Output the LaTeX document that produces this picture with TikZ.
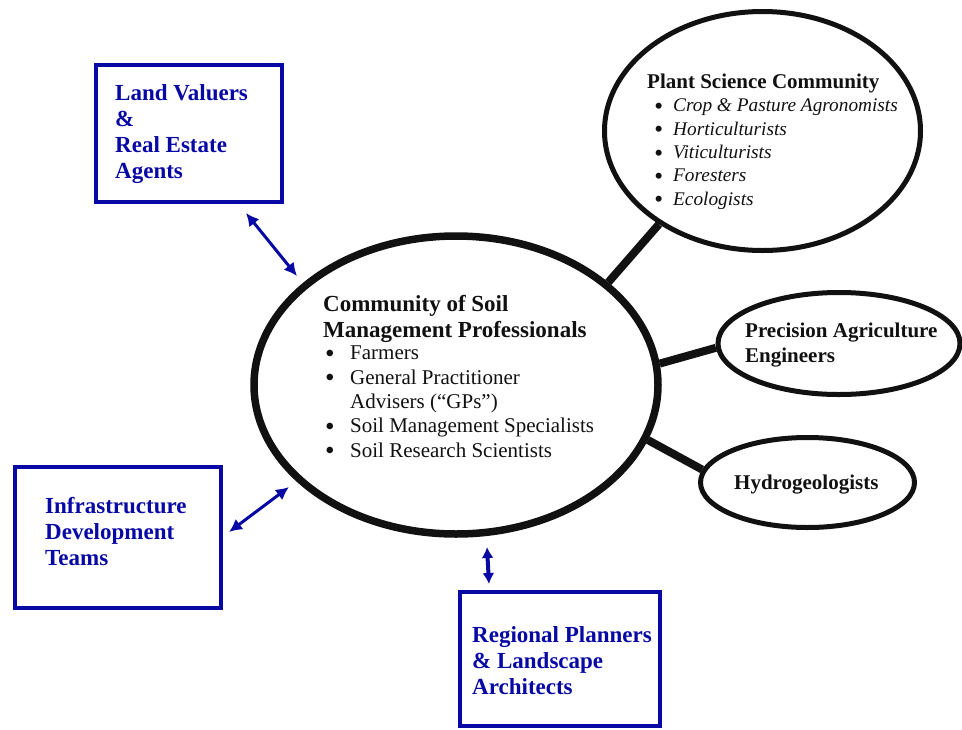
\documentclass[tikz,border=0pt]{standalone}
\usepackage{fontspec}
\usepackage{graphicx}
\setmainfont{Liberation Serif}
\usetikzlibrary{arrows.meta,shapes.geometric}
\definecolor{boxblue}{RGB}{8,8,165}
\definecolor{inkblack}{RGB}{17,17,17}
\newcommand{\bigbul}{\smash{\raisebox{-2.6pt}{\scalebox{1.3}{\textbullet}}}}
\newcommand{\bul}[1]{\hspace*{2pt}\makebox[25pt][l]{\bigbul}#1}
\newcommand{\pbul}[1]{\hspace*{7pt}\makebox[19pt][l]{\bigbul}#1}
\begin{document}
\begin{tikzpicture}[x=1pt,y=-1pt,
  bluebox/.style={draw=boxblue,line width=4.5pt},
  bluetext/.style={text=boxblue,font=\fontsize{23}{26}\selectfont\bfseries,align=left,anchor=base west,inner sep=0pt},
  blacktext/.style={text=inkblack,align=left,anchor=base west,inner sep=0pt},
  oval/.style={draw=inkblack,ellipse,inner sep=0pt,line width=5pt},
  link/.style={draw=inkblack,line width=8pt},
  twoway/.style={draw=boxblue,line width=3pt,{Latex[length=13pt,width=13pt]}-{Latex[length=13pt,width=13pt]}},
  twowayshort/.style={draw=boxblue,line width=4pt,{Latex[length=11pt,width=12pt]}-{Latex[length=11pt,width=12pt]}}
]
\useasboundingbox (0,0) rectangle (962,729);
\fill[white] (0,0) rectangle (962,729);

% blue boxes
\node[bluebox,minimum width=186pt,minimum height=137pt,inner sep=0pt] (landbox) at (189,133.5) {};
\node[bluebox,minimum width=206pt,minimum height=141pt,inner sep=0pt] (infrabox) at (118,537.5) {};
\node[bluebox,minimum width=200pt,minimum height=134pt,inner sep=0pt] (regbox) at (560,659) {};

% (base anchor = baseline of the last line)
\node[bluetext] (landtext) at (115,178) {Land Valuers\\\&\\Real Estate\\Agents};
\node[bluetext] (infratext) at (45,565) {Infrastructure\\Development\\Teams};
\node[bluetext] (regtext) at (472,694) {Regional Planners\\\& Landscape\\Architects};

% ellipses
\node[oval,line width=7.5pt,minimum width=404pt,minimum height=298pt] (central) at (456,385) {};
\node[oval,minimum width=316pt,minimum height=239pt] (plant) at (762.5,131) {};
\node[oval,minimum width=242pt,minimum height=102pt] (precision) at (839,343.5) {};
\node[oval,minimum width=214pt,minimum height=90pt] (hydro) at (807.5,482.5) {};

% central texts
\node[blacktext,font=\fontsize{23}{26}\selectfont\bfseries] (centralhead) at (323,337)
  {Community of Soil\\Management Professionals};
\node[blacktext,font=\fontsize{21}{24.3}\selectfont] (centrallist) at (323,457)
  {\bul{Farmers}\\\bul{General Practitioner}\\\hspace*{27pt}Advisers (“GPs”)\\\bul{Soil Management Specialists}\\\bul{Soil Research Scientists}};

% plant texts
\node[blacktext,font=\fontsize{21}{24}\selectfont\bfseries] (planthead) at (647,88) {Plant Science Community};
\node[blacktext,font=\fontsize{19.3}{23.3}\selectfont\itshape] (plantlist) at (647,205)
  {\pbul{Crop \& Pasture Agronomists}\\\pbul{Horticulturists}\\\pbul{Viticulturists}\\\pbul{Foresters}\\\pbul{Ecologists}};

% other ellipse texts
\node[blacktext,font=\fontsize{21}{25}\selectfont\bfseries] (prectext) at (745,362) {Precision Agriculture\\Engineers};
\node[blacktext,font=\fontsize{21}{25}\selectfont\bfseries] (hydrotext) at (734,489) {Hydrogeologists};

% black connectors
\draw[link] (central.34.6) -- (plant.222);
\draw[link] (central.6.2) -- (precision.182);
\draw[link] (central.-16) -- (hydro.173);

% blue two-way arrows
\coordinate (a1s) at (246,213);
\coordinate (a1e) at (297,276);
\coordinate (a2s) at (229,532);
\coordinate (a2e) at (289,487);
\coordinate (a3s) at (487,547);
\coordinate (a3e) at (489,584);
\draw[twoway] (a1s) -- (a1e);
\draw[twoway] (a2s) -- (a2e);
\draw[twowayshort] (a3s) -- (a3e);
\end{tikzpicture}
\end{document}
